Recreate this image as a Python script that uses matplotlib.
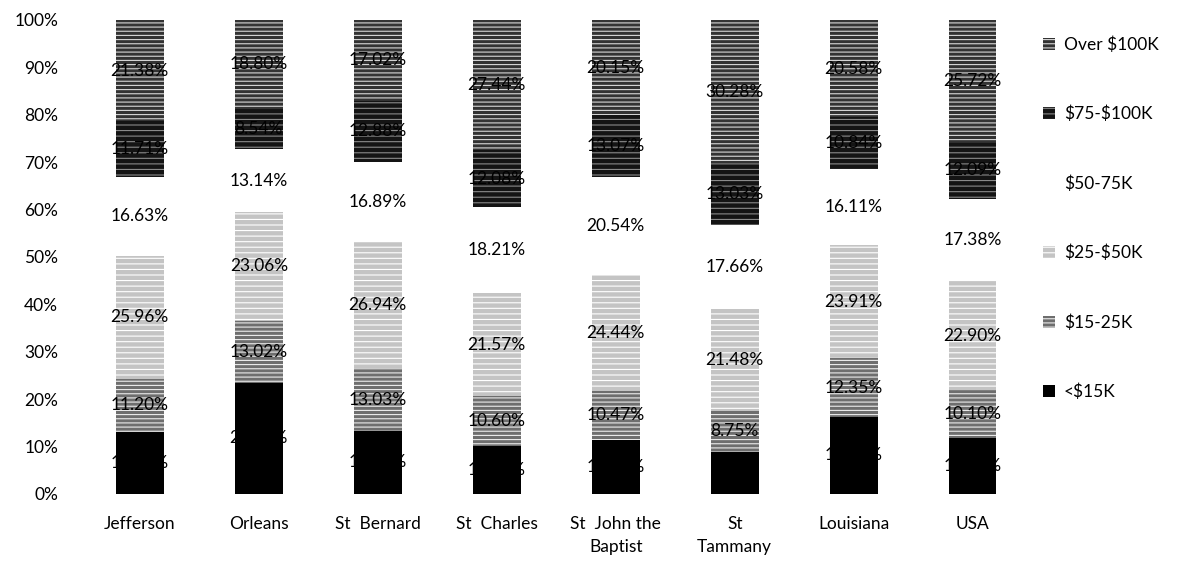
import numpy as np
import matplotlib
matplotlib.use("Agg")
from matplotlib import pyplot as plt

plt.rcParams['font.family'] = ['Lato', 'DejaVu Sans']
plt.rcParams['hatch.linewidth'] = 0.8
plt.rcParams['text.parse_math'] = False

areas = ['Jefferson', 'Orleans', 'St  Bernard', 'St  Charles', 'St  John the\nBaptist',
         'St\nTammany', 'Louisiana', 'USA']
series = ['<$15K', '$15-25K', '$25-$50K', '$50-75K', '$75-$100K', 'Over $100K']

under_15k = [13.12, 23.44, 13.24, 10.10, 11.33, 8.80, 16.21, 11.81]
k15_25 = [11.20, 13.02, 13.03, 10.60, 10.47, 8.75, 12.35, 10.10]
k25_50 = [25.96, 23.06, 26.94, 21.57, 24.44, 21.48, 23.91, 22.90]
k50_75 = [16.63, 13.14, 16.89, 18.21, 20.54, 17.66, 16.11, 17.38]
k75_100 = [11.71, 8.54, 12.88, 12.08, 13.07, 13.03, 10.84, 12.09]
over_100k = [21.38, 18.80, 17.02, 27.44, 20.15, 30.28, 20.58, 25.72]

values = [under_15k, k15_25, k25_50, k50_75, k75_100, over_100k]
# fill, hatch colour, hatch  (scanned look: black / greys / white)
styles = [('#000000', '#000000', None),
          ('#6e6e6e', '#ececec', '----'),
          ('#c4c4c4', '#ffffff', '---'),
          ('#ffffff', '#ffffff', None),
          ('#141414', '#8a8a8a', '---'),
          ('#333333', '#d8d8d8', '----')]

fig = plt.figure(figsize=(11.81, 5.67), dpi=100)
ax = fig.add_axes([0.068, 0.129, 0.806, 0.836])

x = np.arange(len(areas))
bottom = np.zeros(len(areas))
for name, vals, (fc, hc, hatch) in zip(series, values, styles):
    vals = np.array(vals)
    ax.bar(x, vals, 0.4, bottom=bottom, color=fc, edgecolor=hc,
           hatch=hatch, linewidth=0, label=name)
    for xi, b, v in zip(x, bottom, vals):
        ax.text(xi, b + v / 2, f'{v:.2f}%', ha='center', va='center',
                fontsize=12.5, color='black')
    bottom += vals

ax.set_xlim(-0.5, len(areas) - 0.5)
ax.set_ylim(0, 100)
ax.set_yticks(np.arange(0, 101, 10))
ax.set_yticklabels([f'{t}%' for t in range(0, 101, 10)], fontsize=12.5)
ax.set_xticks(x)
ax.set_xticklabels(areas, fontsize=12.5, linespacing=1.55, va='top')
ax.tick_params(axis='x', length=0, pad=16)
ax.tick_params(axis='y', length=0, pad=16)
for s in ax.spines.values():
    s.set_visible(False)

h, l = ax.get_legend_handles_labels()
ax.legend(h[::-1], l[::-1], loc='upper left', bbox_to_anchor=(0.995, 0.998),
          frameon=False, fontsize=12.5, labelspacing=3.05, handlelength=0.7,
          handleheight=0.7, handletextpad=0.5)

fig.savefig('out.png', dpi=100)
